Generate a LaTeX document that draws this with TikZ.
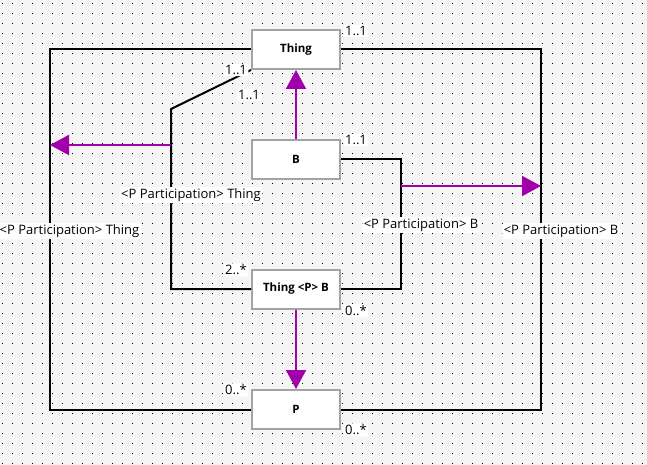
\documentclass[tikz,border=0pt]{standalone}
\usepackage{fontspec}
\setmainfont{Open Sans}
\usetikzlibrary{arrows.meta}
\definecolor{bg}{HTML}{F5F5F5}
\definecolor{purp}{HTML}{A000A8}
\definecolor{boxline}{HTML}{A3A3A3}
\begin{document}
\begin{tikzpicture}[x=1pt,y=-1pt,
  cls/.style={draw=boxline,line width=2pt,fill=white,minimum width=88pt,minimum height=39pt,inner sep=0pt,font=\bfseries\fontsize{11.5}{13}\selectfont},
  conn/.style={draw=black,line width=2pt},
  parr/.style={draw=purp,line width=2pt,-{Triangle[length=19pt,width=20pt]}},
  lbl/.style={fill=white,rounded corners=2pt,inner sep=1.5pt,font=\fontsize{13}{14}\selectfont},
]
\useasboundingbox (0,0) rectangle (647,465);
\fill[bg] (0,0) rectangle (647,465);
\foreach \i in {0,...,64}{\foreach \j in {0,...,46}{\fill[black] (2+10*\i,3+10*\j) rectangle ++(1,1);}}

% classes
\node[cls] (thing) at (296,49.5) {Thing};
\node[cls] (b) at (296,159.5) {B};
\node[cls] (tpb) at (296,289) {Thing <P> B};
\node[cls] (p) at (296,409.5) {P};

% helper coordinates
\coordinate (lc) at (50,200);
\coordinate (rc) at (541,200);
\coordinate (d1) at (171,109);
\coordinate (rr) at (401,220);
\coordinate (a1s) at (171,145);
\coordinate (a1e) at (50,145);
\coordinate (a2s) at (401,186);
\coordinate (a2e) at (541,186);

% connectors
\draw[conn] (thing.west) -| (lc) |- (p.west);
\draw[conn] (thing.east) -| (rc) |- (p.east);
\draw[conn] (thing.south west) -- (d1) -- (d1 |- tpb.west) -- (tpb.west);
\draw[conn] (b.east) -| (rr) |- (tpb.east);

% purple arrows
\draw[parr] (b.north) -- (thing.south);
\draw[parr] (tpb.south) -- (p.north);
\draw[parr] (a1s) -- (a1e);
\draw[parr] (a2s) -- (a2e);

% labels
\node[lbl] (m1) at (236,70) {1..1};
\node[lbl] (m2) at (249,95) {1..1};
\node[lbl] (m3) at (356,31) {1..1};
\node[lbl] (m4) at (356,140) {1..1};
\node[lbl] (m5) at (236,270) {2..*};
\node[lbl] (m6) at (356,311) {0..*};
\node[lbl] (m7) at (236,390) {0..*};
\node[lbl] (m8) at (356,430) {0..*};
\node[lbl] (r1) at (191,195) {<P Participation> Thing};
\node[lbl,anchor=west] (r2) at (-2,231) {<P Participation> Thing};
\node[lbl] (r3) at (421,225) {<P Participation> B};
\node[lbl] (r4) at (561,231) {<P Participation> B};
\end{tikzpicture}
\end{document}
